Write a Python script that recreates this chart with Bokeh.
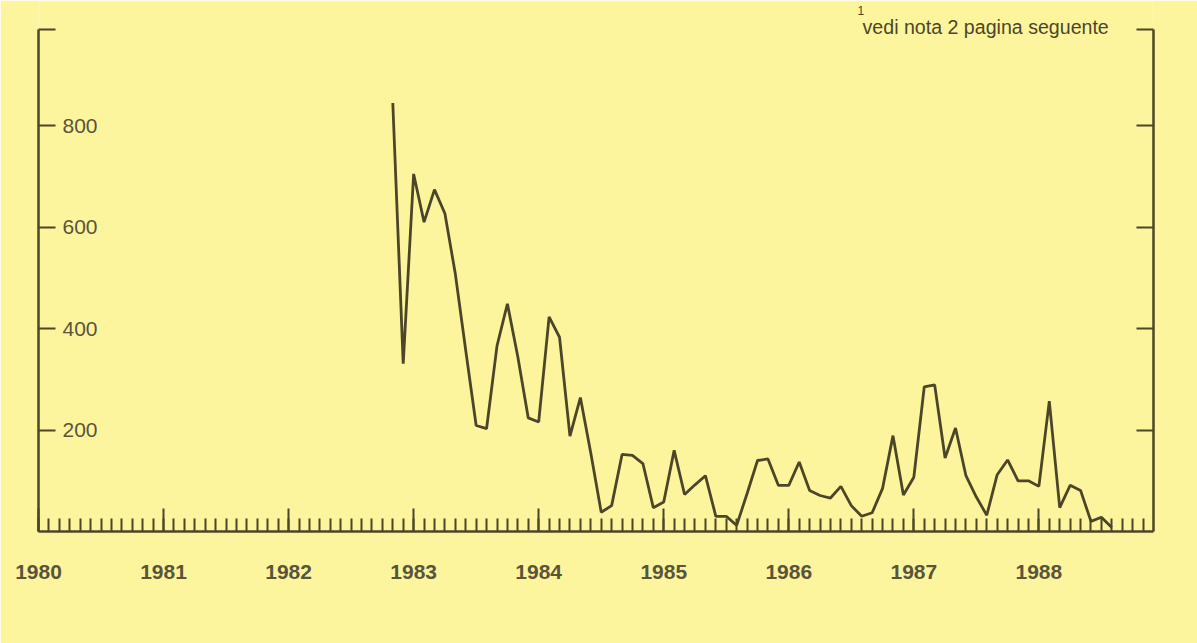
import pandas as pd
from bokeh.plotting import figure
from bokeh.models import FixedTicker, LinearAxis, Range1d, Label
from bokeh.embed import file_html
from bokeh.resources import INLINE

# ---- data ----
start_month = "1982-11"
values = [845, 331,
          705, 610, 674, 627, 508, 357, 209, 203, 366, 449, 344, 224,
          216, 423, 383, 188, 264, 155, 38, 51, 152, 150, 134, 47,
          58, 160, 73, 92, 110, 30, 30, 12, 75, 140, 143, 91,
          91, 137, 81, 71, 66, 89, 51, 30, 37, 85, 189, 72,
          107, 285, 289, 145, 204, 110, 68, 32, 112, 141, 100, 100,
          89, 257, 47, 91, 81, 20, 28, 8]
years = [1980, 1981, 1982, 1983, 1984, 1985, 1986, 1987, 1988]
year_labels = ["1980", "1981", "1982", "1983", "1984", "1985", "1986", "1987", "1988"]
y_ticks = [200, 400, 600, 800]
y_tick_labels = ["200", "400", "600", "800"]
y_top = 990
note_text = "vedi nota 2 pagina seguente"
note_mark = "1"

# ---- derived ----
periods = pd.period_range(start_month, periods=len(values), freq="M")
xs = [pr.year + (pr.month - 1) / 12 for pr in periods]
x_end = years[-1] + 11 / 12
month_ticks = [years[0] + m / 12 for m in range(int(round((x_end - years[0]) * 12)))]

BG = "#FDF59E"
INK = "#4B4628"
LABEL = "#59543A"

p = figure(width=1197, height=643, output_backend="svg", toolbar_location=None,
           x_range=Range1d(years[0], x_end), y_range=Range1d(0, 1045),
           x_axis_location=None, y_axis_location=None,
           min_border_left=38, min_border_right=44, min_border_top=1, min_border_bottom=112,
           background_fill_color=BG, border_fill_color=BG, outline_line_color=None)
for g in p.grid:
    g.visible = False

# bottom axis: year ticks + monthly minor ticks, pointing inward
xaxis = LinearAxis(ticker=FixedTicker(ticks=years, minor_ticks=month_ticks),
                   major_label_overrides={float(y): l for y, l in zip(years, year_labels)},
                   major_tick_in=23, major_tick_out=0, minor_tick_in=13, minor_tick_out=0,
                   major_tick_line_color=INK, minor_tick_line_color=INK,
                   major_tick_line_width=2, minor_tick_line_width=2,
                   axis_line_color=INK, axis_line_width=2.5,
                   major_label_standoff=33, major_label_text_font="Liberation Sans",
                   major_label_text_font_style="bold", major_label_text_font_size="21px",
                   major_label_text_color=LABEL)
p.add_layout(xaxis, "below")

left_ticks = y_ticks + [y_top]
left_over = {float(v): l for v, l in zip(y_ticks, y_tick_labels)}
left_over[float(y_top)] = ""
yaxis = LinearAxis(ticker=FixedTicker(ticks=left_ticks, minor_ticks=[]),
                   bounds=(0, y_top),
                   major_label_overrides=left_over,
                   major_tick_in=17, major_tick_out=0,
                   major_tick_line_color=INK, major_tick_line_width=2,
                   axis_line_color=INK, axis_line_width=2.5,
                   major_label_standoff=-59, major_label_text_font="Liberation Sans",
                   major_label_text_font_size="21px", major_label_text_color=LABEL)
p.add_layout(yaxis, "left")

raxis = LinearAxis(ticker=FixedTicker(ticks=left_ticks, minor_ticks=[]),
                   bounds=(0, y_top),
                   major_label_text_alpha=0, major_label_text_font_size="1px",
                   major_tick_in=17, major_tick_out=0,
                   major_tick_line_color=INK, major_tick_line_width=2,
                   axis_line_color=INK, axis_line_width=2.5)
p.add_layout(raxis, "right")

p.line(xs, values, line_color=INK, line_width=2.8)

p.add_layout(Label(x=1986.59, y=995, text=note_text, text_font="Liberation Sans",
                   text_font_size="19.6px", text_color=INK, text_baseline="alphabetic"))
p.add_layout(Label(x=1986.55, y=1027, text=note_mark, text_font="Liberation Sans",
                   text_font_size="12px", text_color=INK, text_baseline="alphabetic"))

open("out.html", "w").write(file_html(p, INLINE))
